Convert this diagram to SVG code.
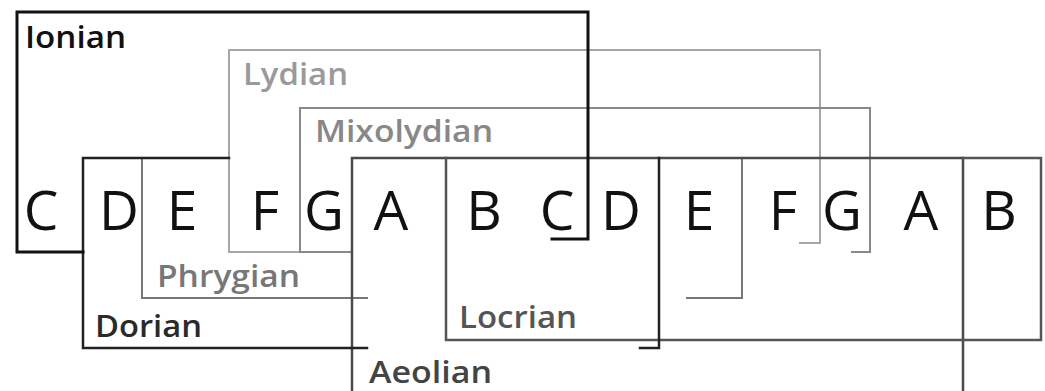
<svg xmlns="http://www.w3.org/2000/svg" width="1045" height="391" viewBox="0 0 1045 391">
<style>
.ln{fill:none;stroke-linecap:square;stroke-linejoin:miter}
.lbl{font-family:"Open Sans","DejaVu Sans",sans-serif;font-size:30px;font-weight:600}
.note{font-family:"Open Sans","Liberation Sans",sans-serif;font-size:55px;fill:#111;text-anchor:middle}
</style>
<rect width="1045" height="391" fill="#fff"/>
<g id="lydian">
<path class="ln" d="M229,252 V50 H820 V243 H800 M229,252 H300" stroke="#a6a6a6" stroke-width="2"/>
<text class="lbl" x="243" y="85" fill="#9a9a9a" textLength="105" lengthAdjust="spacingAndGlyphs">Lydian</text>
</g>
<g id="mixolydian">
<path class="ln" d="M300,252 V108 H870 V252 H852 M300,252 H351" stroke="#888" stroke-width="2"/>
<text class="lbl" x="315" y="142" fill="#888" textLength="178" lengthAdjust="spacingAndGlyphs">Mixolydian</text>
</g>
<g id="phrygian">
<path class="ln" d="M142,158 V298 H367 M687,298 H742 V158" stroke="#777" stroke-width="2"/>
<text class="lbl" x="157" y="287" fill="#777" textLength="143" lengthAdjust="spacingAndGlyphs">Phrygian</text>
</g>
<g id="aeolian">
<path class="ln" d="M352,395 V158 H963 V395" stroke="#4a4a4a" stroke-width="2.5"/>
<text class="lbl" x="369" y="383" fill="#444" textLength="123" lengthAdjust="spacingAndGlyphs">Aeolian</text>
</g>
<g id="locrian">
<path class="ln" d="M446,158 V340 H1041 V158 H963" stroke="#555" stroke-width="2.5"/>
<text class="lbl" x="459" y="328" fill="#555" textLength="118" lengthAdjust="spacingAndGlyphs">Locrian</text>
</g>
<g id="dorian">
<path class="ln" d="M229,158 H83 V348 H367 M640,348 H659 V158" stroke="#222" stroke-width="2.5"/>
<text class="lbl" x="95" y="337" fill="#2a2a2a" font-weight="700" textLength="107" lengthAdjust="spacingAndGlyphs">Dorian</text>
</g>
<g id="ionian">
<path class="ln" d="M83,252 H17 V12 H588 V239 H552" stroke="#111" stroke-width="3"/>
<text class="lbl" x="25" y="48" fill="#111" font-weight="700" textLength="101" lengthAdjust="spacingAndGlyphs">Ionian</text>
</g>
<g id="notes">
<text class="note" x="41" y="230">C</text>
<text class="note" x="119" y="230">D</text>
<text class="note" x="182" y="230">E</text>
<text class="note" x="265" y="230">F</text>
<text class="note" x="324" y="230">G</text>
<text class="note" x="391" y="230">A</text>
<text class="note" x="484" y="230">B</text>
<text class="note" x="557" y="230">C</text>
<text class="note" x="621" y="230">D</text>
<text class="note" x="699" y="230">E</text>
<text class="note" x="783" y="230">F</text>
<text class="note" x="842" y="230">G</text>
<text class="note" x="921" y="230">A</text>
<text class="note" x="999" y="230">B</text>
</g>
<g id="connectors"></g>
</svg>
